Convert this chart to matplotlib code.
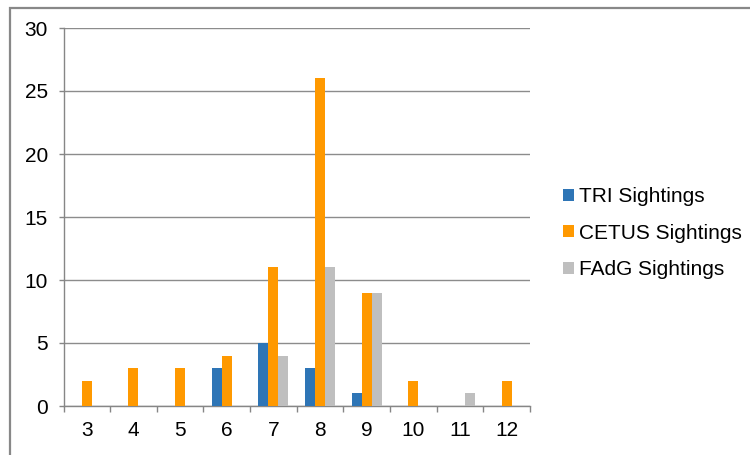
import matplotlib
matplotlib.use("Agg")
import matplotlib.pyplot as plt
from matplotlib.patches import Rectangle
import numpy as np

categories = ["3", "4", "5", "6", "7", "8", "9", "10", "11", "12"]
tri = [0, 0, 0, 3, 5, 3, 1, 0, 0, 0]
cetus = [2, 3, 3, 4, 11, 26, 9, 2, 0, 2]
fadg = [0, 0, 0, 0, 4, 11, 9, 0, 1, 0]
series_names = ["TRI Sightings", "CETUS Sightings", "FAdG Sightings"]
colors = ["#2E75B6", "#FF9900", "#BFBFBF"]

plt.rcParams["font.family"] = ["Liberation Sans", "DejaVu Sans"]

W, H = 750, 455
fig = plt.figure(figsize=(W / 100, H / 100), dpi=100)
ax = fig.add_axes([63.5 / W, 1 - 406 / H, (530 - 63.5) / W, (406 - 28) / H])

x = np.arange(len(categories))
bw = 0.215
for i, (vals, name, c) in enumerate(zip([tri, cetus, fadg], series_names, colors)):
    ax.bar(x + (i - 1) * bw, vals, width=bw, color=c, label=name, zorder=3)

ax.set_xlim(-0.5, len(categories) - 0.5)
ax.set_ylim(0, 30)
ax.set_yticks(range(0, 31, 5))
ax.yaxis.grid(True, color="#8C8C8C", linewidth=1.0, zorder=0)
ax.set_xticks(x)
ax.set_xticklabels(categories)
ax.set_xticks(np.arange(-0.5, len(categories), 1.0), minor=True)
ax.tick_params(axis="x", which="major", length=0, pad=10.5, labelsize=15)
ax.tick_params(axis="x", which="minor", length=4.3, color="#868686", width=1)
ax.tick_params(axis="y", length=3.6, color="#868686", width=1, pad=7.5, labelsize=15)

for s in ["top", "right"]:
    ax.spines[s].set_visible(False)
for s in ["left", "bottom"]:
    ax.spines[s].set_color("#868686")
    ax.spines[s].set_linewidth(1)

leg = fig.legend(loc="upper left", bbox_to_anchor=(555 / W, 1 - 179 / H),
                 frameon=False, fontsize=15, handlelength=0.5, handleheight=0.5,
                 handletextpad=0.25, labelspacing=0.84, borderaxespad=0)

# outer chart-area frame
fig.patches.append(Rectangle((9.5 / W, -0.1), 1.2, 1 - 7.5 / H + 0.1,
                             transform=fig.transFigure, fill=False,
                             edgecolor="#888888", linewidth=1.6))

fig.savefig("out.png", dpi=100)
